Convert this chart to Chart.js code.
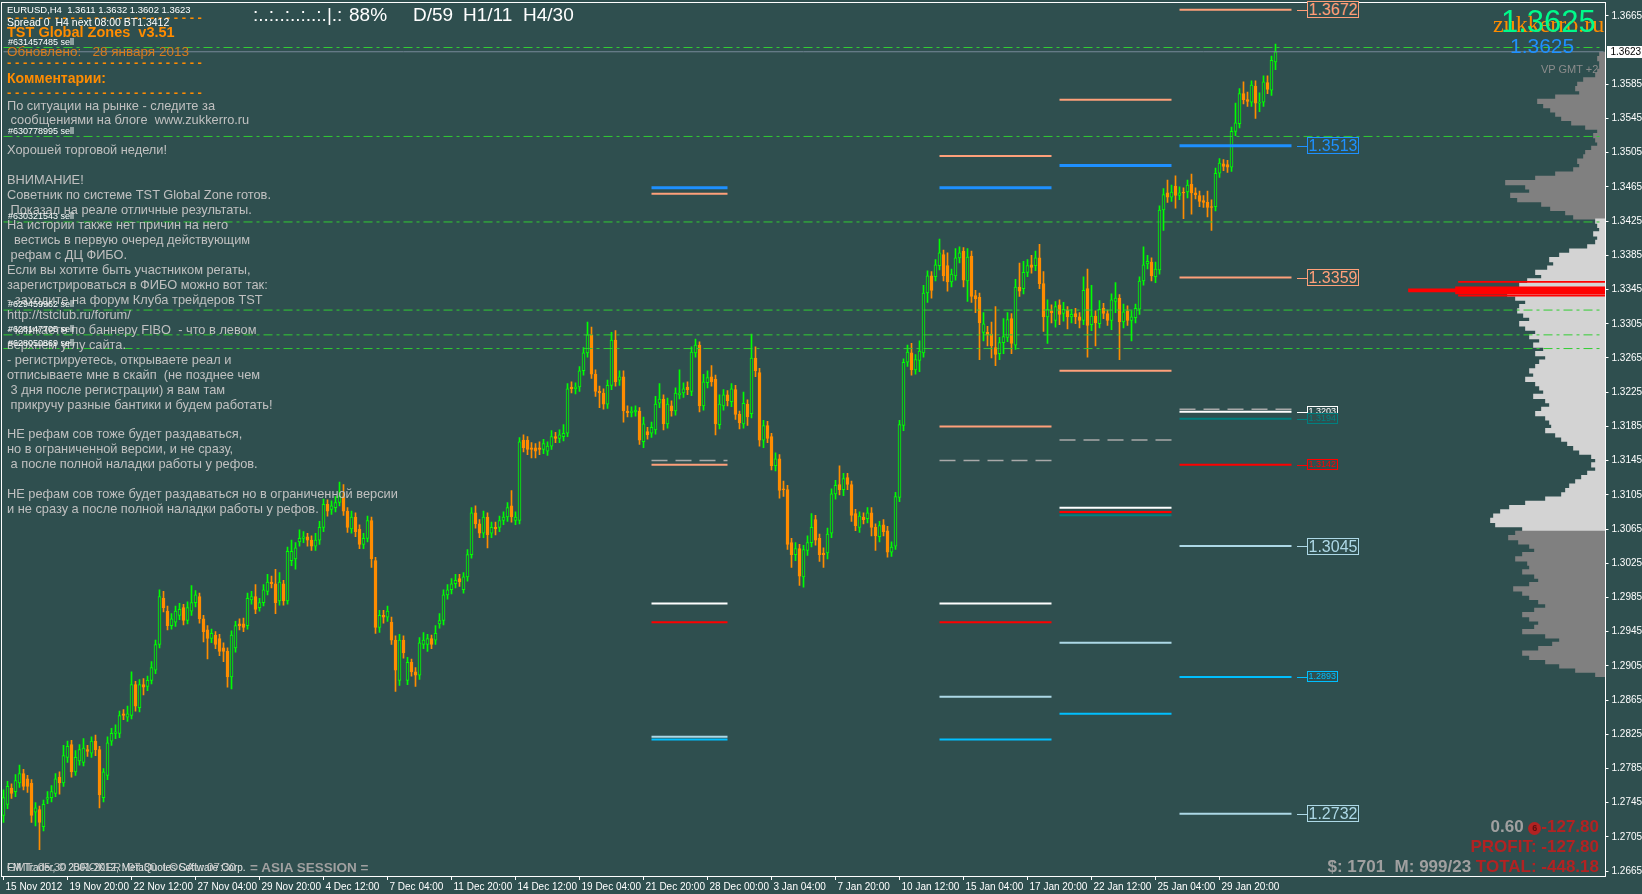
<!DOCTYPE html>
<html>
<head>
<meta charset="utf-8">
<title>EURUSD,H4</title>
<script src="https://cdn.jsdelivr.net/npm/chart.js@4.4.1/dist/chart.umd.min.js"></script>
<style>
  html, body { margin: 0; padding: 0; background: #2F4F4F; overflow: hidden; }
  #wrap { position: relative; width: 1642px; height: 894px; }
  #chart { position: absolute; left: 0; top: 0; }
  .t { position: absolute; white-space: pre; font-family: "Liberation Sans", Arial, sans-serif; line-height: 1; }
  .orange { color: #FF8C00; }
  .dash { font-weight: bold; font-size: 13px; color: #FF8C00; left: 7px; }
  .comment { left: 7px; top: 98.5px; font-size: 12.8px; line-height: 14.96px; color: #C0C0C0; }
  .order { font-size: 9px; color: #FFFFFF; left: 8px; }
  .top { font-size: 19px; color: #FFFFFF; top: 5px; }
  .box { position: absolute; font-family: "Liberation Sans", Arial, sans-serif; border: 1px solid; white-space: pre; padding: 0 1px; background: #2F4F4F; }
  .box.big { font-size: 16px; height: 15px; line-height: 15px; }
  .box.small { font-size: 9px; height: 9px; line-height: 9px; }
  .box::before { content: ""; position: absolute; left: -11px; top: 50%; width: 10px; height: 1px; background: currentColor; }
  .stat { position: absolute; right: 43px; font-family: "Liberation Sans", Arial, sans-serif; font-weight: bold; font-size: 17px; white-space: pre; line-height: 1; }
  .red { color: #B22222; }
  .grey { color: #A0A0A0; }
  .coin { display: inline-block; width: 13px; height: 13px; border-radius: 50%; background: #B22222; color: #5a1010; font-size: 9px; line-height: 13px; text-align: center; vertical-align: 1px; }
</style>
</head>
<body>
<div id="wrap">
  <canvas id="chart" width="1642" height="894"></canvas>

  <div class="t" style="left:7px;top:5px;font-size:9.5px;color:#fff;">EURUSD,H4  1.3611 1.3632 1.3602 1.3623</div>
  <div class="t dash" style="top:11px;">- - - - - - - - - - - - - - - - - - - - - - - - -</div>
  <div class="t" style="left:7px;top:17px;font-size:10.5px;color:#fff;">Spread 0  H4 next 08:00 BT1.3412</div>
  <div class="t orange" style="left:7px;top:25px;font-size:14.5px;font-weight:bold;">TST Global Zones  v3.51</div>
  <div class="t" style="left:7px;top:45px;font-size:13.5px;color:#D97B1C;">Обновлено:   28 января 2013</div>
  <div class="t dash" style="top:56px;">- - - - - - - - - - - - - - - - - - - - - - - - -</div>
  <div class="t orange" style="left:7px;top:71px;font-size:14px;font-weight:bold;">Комментарии:</div>
  <div class="t dash" style="top:86px;">- - - - - - - - - - - - - - - - - - - - - - - - -</div>
  <div class="t comment">По ситуации на рынке - следите за
 сообщениями на блоге  www.zukkerro.ru

Хорошей торговой недели!

ВНИМАНИЕ!
Советник по системе TST Global Zone готов.
 Показал на реале отличные результаты.
На истории также нет причин на него
  вестись в первую очеред действующим
 рефам с ДЦ ФИБО.
Если вы хотите быть участником регаты,
зарегистрироваться в ФИБО можно вот так:
- заходите на форум Клуба трейдеров TST
http://tstclub.ru/forum/
- кликаете по баннеру FIBO  - что в левом
верхнем углу сайта.
- регистрируетесь, открываете реал и
отписываете мне в скайп  (не позднее чем
 3 дня после регистрации) я вам там
 прикручу разные бантики и будем работать!

НЕ рефам сов тоже будет раздаваться,
но в ограниченной версии, и не сразу,
 а после полной наладки работы у рефов.

НЕ рефам сов тоже будет раздаваться но в ограниченной версии
и не сразу а после полной наладки работы у рефов.</div>

  <div class="t top" style="left:253px;">:..:..:..:..:.|.:</div>
  <div class="t top" style="left:349px;">88%</div>
  <div class="t top" style="left:413px;">D/59</div>
  <div class="t top" style="left:463px;">H1/11</div>
  <div class="t top" style="left:523px;">H4/30</div>

  <div class="t" style="left:1493px;top:12px;font-size:24px;color:#FF8C00;font-family:'Liberation Serif','Times New Roman',serif;">zukkerro.ru</div>
  <div class="t" style="left:1501px;top:6px;font-size:31px;color:#00FA8A;">1.3625</div>
  <div class="t" style="left:1510px;top:35px;font-size:21px;color:#1E90FF;">1.3625</div>
  <div class="t" style="left:1541px;top:64px;font-size:11px;color:#8C8C8C;">VP GMT +2</div>

  <div class="t" style="left:7px;top:863px;font-size:10px;color:#E8E8E8;">FM Trader, © 2001-2012, MetaQuotes Software Corp.</div>
  <div class="t" style="left:7px;top:862px;font-size:11.5px;color:#C8C8C8;">GMT: 05:30  BROKER: 07:30  LOCAL: 07:30</div>
  <div class="t" style="left:250px;top:861px;font-size:13.5px;font-weight:bold;color:#A0A0A0;">= ASIA SESSION =</div>

  <div class="stat" style="top:818px;"><span class="grey">0.60 </span><span class="coin">6</span><span class="red">-127.80</span></div>
  <div class="stat red" style="top:838px;">PROFIT: -127.80</div>
  <div class="stat" style="top:858px;"><span class="grey">$: 1701  M: 999/23 </span><span class="red">TOTAL: -448.18</span></div>
</div>

<script>
// --- AXES ---
const slotCount = 401;
const dateStep = 16;
const dateLabels = ['15 Nov 2012', '19 Nov 20:00', '22 Nov 12:00', '27 Nov 04:00', '29 Nov 20:00', '4 Dec 12:00',
  '7 Dec 04:00', '11 Dec 20:00', '14 Dec 12:00', '19 Dec 04:00', '21 Dec 20:00', '28 Dec 00:00', '3 Jan 04:00',
  '7 Jan 20:00', '10 Jan 12:00', '15 Jan 04:00', '17 Jan 20:00', '22 Jan 12:00', '25 Jan 04:00', '29 Jan 20:00'];
const priceTicks = [1.2665, 1.2705, 1.2745, 1.2785, 1.2825, 1.2865, 1.2905, 1.2945, 1.2985, 1.3025, 1.3065, 1.3105,
  1.3145, 1.3185, 1.3225, 1.3265, 1.3305, 1.3345, 1.3385, 1.3425, 1.3465, 1.3505, 1.3545, 1.3585, 1.3665];
const priceMin = 1.26593, priceMax = 1.36812;
const lastPrice = 1.3623;

// --- CANDLES (EURUSD H4) ---
const opens = [
  1.2730,1.2743,1.2762,1.2758,1.2768,1.2779,1.2773,1.2768,1.2734,1.2737,
  1.2717,1.2749,1.2751,1.2756,1.2775,1.2768,1.2798,1.2813,1.2781,1.2794,
  1.2792,1.2807,1.2803,1.2817,1.2807,1.2751,1.2777,1.2817,1.2826,1.2826,
  1.2849,1.2845,1.2847,1.2883,1.2856,1.2883,1.2881,1.2888,1.2900,1.2930,
  1.2984,1.2969,1.2952,1.2956,1.2964,1.2973,1.2958,1.2969,1.2979,1.2986,
  1.2960,1.2947,1.2937,1.2941,1.2937,1.2926,1.2922,1.2892,1.2926,1.2954,
  1.2954,1.2952,1.2982,1.2986,1.2973,1.2979,1.2992,1.3003,1.3001,1.2981,
  1.3001,1.2981,1.3028,1.3030,1.3050,1.3054,1.3056,1.3052,1.3045,1.3052,
  1.3067,1.3094,1.3088,1.3090,1.3096,1.3103,1.3086,1.3065,1.3079,1.3065,
  1.3047,1.3054,1.3075,1.3028,1.2950,1.2964,1.2962,1.2956,1.2935,1.2888,
  1.2935,1.2888,1.2909,1.2898,1.2894,1.2930,1.2930,1.2937,1.2935,1.2954,
  1.2958,1.2988,1.2994,1.3001,1.3007,1.2994,1.3009,1.3035,1.3084,1.3071,
  1.3060,1.3079,1.3060,1.3067,1.3067,1.3075,1.3079,1.3092,1.3075,1.3075,
  1.3169,1.3169,1.3160,1.3160,1.3160,1.3158,1.3156,1.3162,1.3173,1.3171,
  1.3173,1.3177,1.3231,1.3229,1.3231,1.3250,1.3271,1.3292,1.3246,1.3226,
  1.3224,1.3211,1.3233,1.3286,1.3239,1.3243,1.3203,1.3201,1.3202,1.3203,
  1.3167,1.3179,1.3177,1.3181,1.3212,1.3217,1.3188,1.3209,1.3203,1.3222,
  1.3224,1.3231,1.3226,1.3271,1.3280,1.3209,1.3236,1.3243,1.3240,1.3187,
  1.3209,1.3222,1.3214,1.3228,1.3199,1.3188,1.3211,1.3200,1.3265,1.3248,
  1.3169,1.3186,1.3173,1.3139,1.3147,1.3112,1.3111,1.3049,1.3035,1.3042,
  1.3009,1.3040,1.3049,1.3076,1.3054,1.3037,1.3037,1.3060,1.3106,1.3117,
  1.3111,1.3125,1.3117,1.3083,1.3067,1.3079,1.3077,1.3084,1.3067,1.3056,
  1.3070,1.3063,1.3038,1.3045,1.3102,1.3186,1.3260,1.3271,1.3251,1.3262,
  1.3271,1.3341,1.3361,1.3360,1.3373,1.3386,1.3373,1.3354,1.3361,1.3382,
  1.3390,1.3355,1.3384,1.3338,1.3336,1.3295,1.3295,1.3293,1.3277,1.3270,
  1.3283,1.3289,1.3311,1.3280,1.3348,1.3346,1.3365,1.3374,1.3373,1.3382,
  1.3352,1.3313,1.3320,1.3309,1.3327,1.3317,1.3321,1.3313,1.3317,1.3313,
  1.3309,1.3346,1.3304,1.3314,1.3305,1.3323,1.3317,1.3309,1.3331,1.3335,
  1.3307,1.3320,1.3309,1.3312,1.3322,1.3355,1.3375,1.3377,1.3360,1.3368,
  1.3438,1.3458,1.3453,1.3466,1.3455,1.3459,1.3459,1.3468,1.3458,1.3455,
  1.3449,1.3447,1.3442,1.3442,1.3481,1.3492,1.3491,1.3488,1.3530,1.3539,
  1.3574,1.3567,1.3564,1.3583,1.3563,1.3564,1.3587,1.3578,1.3611];
const highs = [
  1.2760,1.2770,1.2767,1.2778,1.2789,1.2784,1.2777,1.2772,1.2745,1.2741,
  1.2748,1.2758,1.2765,1.2779,1.2781,1.2812,1.2817,1.2818,1.2806,1.2813,
  1.2820,1.2812,1.2822,1.2824,1.2811,1.2785,1.2822,1.2832,1.2836,1.2852,
  1.2854,1.2858,1.2898,1.2887,1.2889,1.2890,1.2893,1.2910,1.2935,1.2994,
  1.2992,1.2975,1.2966,1.2975,1.2978,1.2977,1.2980,1.2999,1.2993,1.2990,
  1.2964,1.2952,1.2948,1.2945,1.2942,1.2932,1.2926,1.2946,1.2957,1.2960,
  1.2961,1.2990,1.2992,1.3000,1.2984,1.3000,1.3012,1.3010,1.3018,1.3014,
  1.3005,1.3044,1.3052,1.3049,1.3064,1.3062,1.3060,1.3057,1.3060,1.3074,
  1.3100,1.3099,1.3098,1.3103,1.3120,1.3117,1.3090,1.3086,1.3084,1.3070,
  1.3060,1.3080,1.3079,1.3032,1.2970,1.2970,1.2975,1.2962,1.2940,1.2942,
  1.2940,1.2915,1.2913,1.2903,1.2938,1.2944,1.2942,1.2941,1.2952,1.2966,
  1.2994,1.3000,1.3007,1.3012,1.3012,1.3014,1.3041,1.3090,1.3092,1.3076,
  1.3086,1.3084,1.3073,1.3073,1.3080,1.3085,1.3096,1.3110,1.3085,1.3172,
  1.3175,1.3173,1.3166,1.3165,1.3167,1.3170,1.3167,1.3180,1.3178,1.3181,
  1.3187,1.3235,1.3237,1.3236,1.3255,1.3277,1.3307,1.3301,1.3251,1.3232,
  1.3229,1.3239,1.3295,1.3297,1.3250,1.3250,1.3209,1.3208,1.3209,1.3207,
  1.3196,1.3184,1.3190,1.3220,1.3235,1.3222,1.3218,1.3215,1.3230,1.3251,
  1.3236,1.3237,1.3278,1.3287,1.3284,1.3246,1.3250,1.3256,1.3245,1.3222,
  1.3228,1.3227,1.3235,1.3233,1.3203,1.3225,1.3216,1.3293,1.3278,1.3253,
  1.3192,1.3191,1.3177,1.3154,1.3152,1.3121,1.3116,1.3054,1.3049,1.3047,
  1.3046,1.3057,1.3083,1.3081,1.3059,1.3043,1.3066,1.3112,1.3122,1.3139,
  1.3130,1.3130,1.3121,1.3088,1.3085,1.3084,1.3090,1.3090,1.3071,1.3074,
  1.3076,1.3068,1.3050,1.3108,1.3192,1.3264,1.3280,1.3282,1.3269,1.3285,
  1.3350,1.3367,1.3366,1.3380,1.3404,1.3391,1.3388,1.3369,1.3393,1.3395,
  1.3394,1.3393,1.3390,1.3344,1.3341,1.3318,1.3302,1.3307,1.3325,1.3289,
  1.3311,1.3318,1.3317,1.3357,1.3376,1.3378,1.3380,1.3385,1.3390,1.3398,
  1.3366,1.3333,1.3327,1.3331,1.3333,1.3330,1.3325,1.3322,1.3323,1.3318,
  1.3360,1.3369,1.3350,1.3320,1.3332,1.3329,1.3321,1.3340,1.3353,1.3339,
  1.3328,1.3326,1.3320,1.3328,1.3360,1.3395,1.3385,1.3382,1.3377,1.3443,
  1.3463,1.3473,1.3467,1.3478,1.3465,1.3464,1.3473,1.3480,1.3464,1.3460,
  1.3455,1.3460,1.3450,1.3487,1.3498,1.3497,1.3496,1.3535,1.3563,1.3580,
  1.3588,1.3576,1.3589,1.3589,1.3575,1.3595,1.3595,1.3618,1.3632];
const lows = [
  1.2722,1.2738,1.2750,1.2752,1.2763,1.2760,1.2757,1.2722,1.2718,1.2690,
  1.2712,1.2744,1.2746,1.2752,1.2755,1.2764,1.2792,1.2775,1.2777,1.2789,
  1.2788,1.2799,1.2798,1.2800,1.2739,1.2746,1.2772,1.2812,1.2820,1.2821,
  1.2842,1.2840,1.2843,1.2852,1.2851,1.2871,1.2876,1.2884,1.2896,1.2926,
  1.2968,1.2947,1.2948,1.2951,1.2959,1.2953,1.2954,1.2964,1.2974,1.2955,
  1.2933,1.2913,1.2932,1.2925,1.2917,1.2910,1.2880,1.2878,1.2921,1.2947,
  1.2945,1.2948,1.2977,1.2966,1.2969,1.2975,1.2988,1.2996,1.2966,1.2976,
  1.2976,1.2977,1.3022,1.3018,1.3045,1.3049,1.3045,1.3040,1.3040,1.3047,
  1.3062,1.3080,1.3082,1.3085,1.3092,1.3081,1.3061,1.3060,1.3056,1.3042,
  1.3042,1.3050,1.3020,1.2943,1.2944,1.2955,1.2957,1.2930,1.2875,1.2882,
  1.2914,1.2883,1.2893,1.2881,1.2889,1.2925,1.2922,1.2925,1.2930,1.2949,
  1.2953,1.2983,1.2989,1.2996,1.2998,1.2990,1.3004,1.3031,1.3066,1.3055,
  1.3055,1.3043,1.3055,1.3058,1.3062,1.3070,1.3074,1.3073,1.3070,1.3071,
  1.3155,1.3152,1.3148,1.3148,1.3152,1.3153,1.3151,1.3158,1.3166,1.3166,
  1.3168,1.3173,1.3224,1.3223,1.3226,1.3245,1.3266,1.3241,1.3220,1.3207,
  1.3205,1.3206,1.3228,1.3232,1.3233,1.3190,1.3196,1.3196,1.3197,1.3164,
  1.3160,1.3170,1.3172,1.3176,1.3207,1.3181,1.3183,1.3197,1.3198,1.3217,
  1.3219,1.3222,1.3221,1.3266,1.3202,1.3204,1.3230,1.3232,1.3175,1.3182,
  1.3204,1.3209,1.3208,1.3193,1.3182,1.3183,1.3186,1.3195,1.3243,1.3162,
  1.3160,1.3166,1.3134,1.3133,1.3101,1.3103,1.3041,1.3020,1.3028,1.2999,
  1.2997,1.3034,1.3044,1.3046,1.3027,1.3020,1.3030,1.3055,1.3100,1.3105,
  1.3104,1.3111,1.3074,1.3063,1.3061,1.3071,1.3072,1.3057,1.3040,1.3050,
  1.3057,1.3032,1.3033,1.3041,1.3097,1.3180,1.3255,1.3245,1.3246,1.3249,
  1.3266,1.3330,1.3335,1.3355,1.3368,1.3355,1.3343,1.3348,1.3356,1.3376,
  1.3348,1.3331,1.3330,1.3318,1.3263,1.3285,1.3279,1.3265,1.3256,1.3263,
  1.3270,1.3284,1.3270,1.3275,1.3337,1.3340,1.3360,1.3364,1.3367,1.3346,
  1.3296,1.3282,1.3306,1.3301,1.3304,1.3308,1.3299,1.3306,1.3305,1.3300,
  1.3304,1.3266,1.3297,1.3279,1.3300,1.3311,1.3303,1.3298,1.3318,1.3263,
  1.3300,1.3303,1.3285,1.3306,1.3316,1.3350,1.3369,1.3355,1.3353,1.3363,
  1.3414,1.3447,1.3448,1.3440,1.3450,1.3428,1.3452,1.3433,1.3451,1.3442,
  1.3441,1.3430,1.3414,1.3437,1.3476,1.3484,1.3482,1.3483,1.3525,1.3534,
  1.3562,1.3559,1.3559,1.3545,1.3553,1.3559,1.3574,1.3572,1.3602];
const closes = [
  1.2751,1.2764,1.2756,1.2771,1.2779,1.2764,1.2764,1.2730,1.2739,1.2722,
  1.2743,1.2751,1.2758,1.2773,1.2768,1.2800,1.2811,1.2781,1.2798,1.2807,
  1.2809,1.2805,1.2817,1.2807,1.2754,1.2781,1.2815,1.2826,1.2828,1.2847,
  1.2847,1.2849,1.2883,1.2858,1.2883,1.2880,1.2888,1.2903,1.2930,1.2986,
  1.2973,1.2952,1.2960,1.2969,1.2971,1.2958,1.2973,1.2979,1.2988,1.2960,
  1.2945,1.2937,1.2943,1.2930,1.2922,1.2922,1.2892,1.2941,1.2952,1.2952,
  1.2950,1.2984,1.2986,1.2971,1.2979,1.2994,1.3003,1.3001,1.2979,1.3003,
  1.2981,1.3039,1.3039,1.3043,1.3054,1.3056,1.3052,1.3045,1.3052,1.3067,
  1.3094,1.3086,1.3092,1.3096,1.3103,1.3086,1.3067,1.3079,1.3062,1.3047,
  1.3054,1.3075,1.3030,1.2950,1.2964,1.2962,1.2969,1.2935,1.2900,1.2935,
  1.2920,1.2909,1.2898,1.2894,1.2932,1.2935,1.2937,1.2930,1.2943,1.2958,
  1.2988,1.2994,1.3001,1.3005,1.3003,1.3009,1.3035,1.3084,1.3071,1.3060,
  1.3079,1.3058,1.3067,1.3065,1.3075,1.3079,1.3090,1.3079,1.3079,1.3167,
  1.3160,1.3158,1.3158,1.3156,1.3158,1.3165,1.3162,1.3173,1.3171,1.3175,
  1.3177,1.3229,1.3229,1.3231,1.3250,1.3271,1.3292,1.3246,1.3226,1.3224,
  1.3211,1.3233,1.3286,1.3237,1.3243,1.3203,1.3201,1.3203,1.3204,1.3169,
  1.3188,1.3175,1.3184,1.3211,1.3217,1.3188,1.3211,1.3203,1.3224,1.3224,
  1.3229,1.3228,1.3272,1.3280,1.3209,1.3237,1.3242,1.3237,1.3188,1.3211,
  1.3222,1.3215,1.3229,1.3199,1.3189,1.3212,1.3196,1.3265,1.3250,1.3169,
  1.3186,1.3171,1.3139,1.3147,1.3110,1.3111,1.3047,1.3035,1.3042,1.3010,
  1.3041,1.3049,1.3067,1.3052,1.3035,1.3035,1.3059,1.3106,1.3116,1.3111,
  1.3124,1.3117,1.3081,1.3069,1.3080,1.3076,1.3084,1.3067,1.3057,1.3069,
  1.3062,1.3038,1.3044,1.3103,1.3187,1.3260,1.3272,1.3251,1.3263,1.3273,
  1.3341,1.3361,1.3344,1.3374,1.3388,1.3361,1.3354,1.3363,1.3382,1.3388,
  1.3356,1.3383,1.3337,1.3334,1.3306,1.3305,1.3292,1.3279,1.3269,1.3283,
  1.3290,1.3310,1.3282,1.3348,1.3343,1.3365,1.3373,1.3371,1.3382,1.3352,
  1.3313,1.3322,1.3318,1.3325,1.3316,1.3322,1.3313,1.3316,1.3313,1.3309,
  1.3344,1.3303,1.3314,1.3306,1.3322,1.3317,1.3309,1.3333,1.3335,1.3307,
  1.3319,1.3309,1.3313,1.3323,1.3355,1.3374,1.3378,1.3361,1.3369,1.3438,
  1.3456,1.3453,1.3459,1.3455,1.3458,1.3458,1.3467,1.3458,1.3456,1.3448,
  1.3447,1.3441,1.3441,1.3481,1.3493,1.3489,1.3488,1.3530,1.3540,1.3574,
  1.3567,1.3565,1.3584,1.3563,1.3564,1.3588,1.3579,1.3613,1.3623];

// --- GLOBAL ZONES (level, bar group, colour, width, dashed) ---
const zoneGroupFrom = [162, 234, 264, 294];
const zoneGroupTo = [181, 262, 292, 322];
const zoneGroup = [0,0,0,0,0,0,0,0, 1,1,1,1,1,1,1,1, 2,2,2,2,2,2,2,2,2, 3,3,3,3,3,3,3,3,3,3];
const zoneLevel = [1.3464, 1.3457, 1.3145, 1.3140, 1.2978, 1.2956, 1.2822, 1.2819,
  1.3501, 1.3464, 1.3185, 1.3145, 1.2978, 1.2956, 1.2869, 1.2819,
  1.3567, 1.3490, 1.3250, 1.3169, 1.3090, 1.3085, 1.3081, 1.2932, 1.2849,
  1.3672, 1.3513, 1.3359, 1.3205, 1.3202, 1.3194, 1.3140, 1.3045, 1.2892, 1.2732];
const zoneColor = ['#1E90FF', '#FFA07A', '#A9A9A9', '#FFA07A', '#FFFFFF', '#FF0000', '#ADD8E6', '#00BFFF',
  '#FFA07A', '#1E90FF', '#FFA07A', '#A9A9A9', '#FFFFFF', '#FF0000', '#ADD8E6', '#00BFFF',
  '#FFA07A', '#1E90FF', '#FFA07A', '#A9A9A9', '#FFFFFF', '#FF0000', '#008080', '#ADD8E6', '#00BFFF',
  '#FFA07A', '#1E90FF', '#FFA07A', '#A9A9A9', '#FFFFFF', '#008080', '#FF0000', '#ADD8E6', '#00BFFF', '#ADD8E6'];
const zoneWidth = [3, 2, 1.5, 2, 2, 2, 2, 2,
  2, 3, 2, 1.5, 2, 2, 2, 2,
  2, 3, 2, 1.5, 2, 2, 2, 2, 2,
  2, 3, 2, 1.5, 2, 2, 2, 2, 2, 2];
const zoneDashed = zoneColor.map(c => c === '#A9A9A9');

// price boxes at the end of the last zone group
const boxLevel = [1.3672, 1.3513, 1.3359, 1.3202, 1.3194, 1.3140, 1.3045, 1.2892, 1.2732];
const boxText = ['1.3672', '1.3513', '1.3359', '1.3203', '1.3194', '1.3142', '1.3045', '1.2893', '1.2732'];
const boxColor = ['#FFA07A', '#1E90FF', '#FFA07A', '#FFFFFF', '#008080', '#FF0000', '#ADD8E6', '#00BFFF', '#ADD8E6'];
const boxBig = [true, true, true, false, false, false, true, false, true];

// --- PENDING ORDERS ---
const orderLevel = [1.3628, 1.3524, 1.3424, 1.3321, 1.3292, 1.3276];
const orderTicket = ['#631457485 sell', '#630778995 sell', '#630321543 sell', '#629459962 sell', '#628147705 sell', '#628050869 sell'];

// --- VOLUME PROFILE (top level 1.3620, step 0.0005 down) ---
const profTop = 1.3620, profStep = 0.0005;
const profVolume = [
  6, 8, 6, 6, 8, 10, 22, 28, 30, 26,
  50, 68, 62, 55, 50, 44, 34, 20, 8, 12,
  10, 8, 14, 20, 22, 28, 26, 32, 50, 70,
  100, 80, 76, 95, 88, 64, 55, 40, 32, 10,
  8, 6, 12, 8, 10, 18, 36, 46, 56, 52,
  58, 70, 64, 78, 86, 104, 98, 90, 80, 86,
  88, 82, 76, 86, 80, 70, 76, 66, 72, 62,
  70, 60, 66, 70, 76, 72, 80, 70, 66, 62,
  72, 60, 56, 64, 70, 60, 56, 54, 60, 50,
  44, 38, 32, 26, 14, 10, 14, 10, 18, 24,
  30, 36, 40, 44, 60, 80, 96, 105, 112, 115,
  110, 83, 90, 97, 87, 76, 71, 83, 90, 78,
  76, 83, 71, 67, 76, 92, 83, 76, 67, 60,
  71, 83, 76, 67, 71, 83, 60, 46, 53, 67,
  83, 76, 60, 46, 30, 10];
const valueAreaHigh = 1.3425, valueAreaLow = 1.3065;
const pocLevel = 1.3344, pocVolume = 150, pocTipVolume = 197;
const pocEdgeLevels = [1.3354, 1.3338], pocEdgeVolume = 147;

// --- CHART ---
const BG = '#2F4F4F';
const BULL = '#00FF00', BEAR = '#FF8C00';
const isBull = i => closes[i] >= opens[i];
const profLevel = i => +(profTop - i * profStep).toFixed(4);

const datasets = [];

datasets.push({
  type: 'bar', indexAxis: 'y', xAxisID: 'xp', yAxisID: 'y', order: 30, grouped: false, clip: 0,
  data: profVolume.map((v, i) => ({ x: v, y: profLevel(i) })),
  backgroundColor: ctx => {
    const p = profLevel(ctx.dataIndex);
    return (p <= valueAreaHigh && p >= valueAreaLow) ? '#D3D3D3' : '#808080';
  },
  barThickness: 4.6
});
datasets.push({
  type: 'bar', indexAxis: 'y', xAxisID: 'xp', yAxisID: 'y', order: 29, grouped: false, clip: 0,
  data: [{ x: pocVolume, y: pocLevel }], backgroundColor: '#FF0000', barThickness: 7
});
datasets.push({
  type: 'bar', indexAxis: 'y', xAxisID: 'xp', yAxisID: 'y', order: 29, grouped: false, clip: 0,
  data: [{ x: pocTipVolume, y: pocLevel }], backgroundColor: '#FF0000', barThickness: 3
});
datasets.push({
  type: 'bar', indexAxis: 'y', xAxisID: 'xp', yAxisID: 'y', order: 29, grouped: false, clip: 0,
  data: pocEdgeLevels.map(l => ({ x: pocEdgeVolume, y: l })), backgroundColor: '#FF0000', barThickness: 1.2
});

// wicks + bodies
datasets.push({
  type: 'bar', order: 5, grouped: false, barThickness: 1,
  data: highs.map((h, i) => [lows[i], h]),
  backgroundColor: ctx => isBull(ctx.dataIndex) ? BULL : BEAR
});
datasets.push({
  type: 'bar', order: 4, grouped: false, barThickness: 3, borderWidth: 1, borderSkipped: false,
  data: opens.map((o, i) => [o, closes[i]]),
  backgroundColor: ctx => isBull(ctx.dataIndex) ? BG : BEAR,
  borderColor: ctx => isBull(ctx.dataIndex) ? BULL : BEAR
});

// zone segments
zoneLevel.forEach((lvl, i) => {
  const g = zoneGroup[i];
  datasets.push({
    type: 'line', order: 2,
    data: [{ x: zoneGroupFrom[g], y: lvl }, { x: zoneGroupTo[g], y: lvl }],
    borderColor: zoneColor[i], borderWidth: zoneWidth[i], borderDash: zoneDashed[i] ? [16, 8] : [],
    pointRadius: 0, fill: false, tension: 0
  });
});

// pending order lines (dash-dot) and bid line
orderLevel.forEach(lvl => {
  datasets.push({
    type: 'line', order: 1,
    data: [{ x: 0, y: lvl }, { x: slotCount - 1, y: lvl }],
    borderColor: '#32CD32', borderWidth: 1, borderDash: [9, 4, 3, 4],
    pointRadius: 0, fill: false
  });
});
datasets.push({
  type: 'line', order: 0,
  data: [{ x: 0, y: lastPrice }, { x: slotCount - 1, y: lastPrice }],
  borderColor: '#778899', borderWidth: 1, pointRadius: 0, fill: false
});

const framePlugin = {
  id: 'frame',
  beforeDraw(c) {
    const g = c.ctx;
    g.save(); g.fillStyle = BG; g.fillRect(0, 0, c.width, c.height); g.restore();
  },
  afterDraw(c) {
    const g = c.ctx, a = c.chartArea;
    g.save(); g.strokeStyle = '#FFFFFF'; g.lineWidth = 1;
    g.strokeRect(a.left, a.top + 0.5, a.right - a.left, a.bottom - a.top);
    g.restore();
  }
};

const noPad = s => { s.paddingTop = 0; s.paddingBottom = 0; s.paddingLeft = 0; s.paddingRight = 0; };
const labels = Array.from({ length: slotCount }, (_, i) => i);

const chart = new Chart(document.getElementById('chart'), {
  type: 'bar',
  data: { labels, datasets },
  plugins: [framePlugin],
  options: {
    responsive: false, animation: false, devicePixelRatio: 1, events: [],
    layout: { padding: { left: 1.5, top: 2, right: 0, bottom: 0 } },
    plugins: { legend: { display: false }, tooltip: { enabled: false } },
    scales: {
      x: {
        type: 'category', offset: true,
        grid: { display: true, drawOnChartArea: false, drawTicks: true, tickLength: 4, color: '#FFFFFF', offset: false },
        border: { display: false },
        afterBuildTicks: s => { s.ticks = s.ticks.filter(t => t.value % dateStep === 0 && t.value / dateStep < dateLabels.length); },
        afterFit: s => { s.height = 18; noPad(s); },
        ticks: {
          autoSkip: false, maxRotation: 0, align: 'start', labelOffset: 2, padding: 1,
          color: '#FFFFFF', font: { family: 'Liberation Sans', size: 10 },
          callback: v => dateLabels[v / dateStep]
        }
      },
      y: {
        type: 'linear', position: 'right', min: priceMin, max: priceMax, offset: false,
        grid: { display: true, drawOnChartArea: false, drawTicks: true, tickLength: 3, color: '#FFFFFF', offset: false },
        border: { display: false },
        afterBuildTicks: s => { s.ticks = priceTicks.map(v => ({ value: v })); },
        afterFit: s => { s.width = 36.5; noPad(s); },
        ticks: {
          autoSkip: false, padding: 3, color: '#FFFFFF', font: { family: 'Liberation Sans', size: 10 },
          callback: v => Number(v).toFixed(4)
        }
      },
      xp: {
        type: 'linear', axis: 'x', position: 'bottom', display: false, reverse: true,
        offset: false, grid: { offset: false }, min: 0, max: 1604
      }
    }
  }
});

// --- overlays positioned from the scales ---
const wrap = document.getElementById('wrap');
const ys = chart.scales.y, xs = chart.scales.x;

orderLevel.forEach((lvl, i) => {
  const d = document.createElement('div');
  d.className = 't order';
  d.textContent = orderTicket[i];
  d.style.top = (ys.getPixelForValue(lvl) - 9.6) + 'px';
  wrap.appendChild(d);
});

const boxLeft = xs.getPixelForValue(zoneGroupTo[3]) + 15;
boxLevel.forEach((lvl, i) => {
  const d = document.createElement('div');
  d.className = 'box ' + (boxBig[i] ? 'big' : 'small');
  d.textContent = boxText[i];
  d.style.color = boxColor[i];
  d.style.borderColor = boxColor[i];
  d.style.left = boxLeft + 'px';
  const h = boxBig[i] ? 17 : 11;
  d.style.top = (ys.getPixelForValue(lvl) - h / 2) + 'px';
  wrap.appendChild(d);
});

const bid = document.createElement('div');
bid.className = 't';
bid.textContent = lastPrice.toFixed(4);
Object.assign(bid.style, {
  left: (chart.chartArea.right + 1) + 'px', width: '35px', height: '12px', lineHeight: '12px',
  top: (ys.getPixelForValue(lastPrice) - 6) + 'px', background: '#FFFFFF', color: '#000000',
  fontSize: '10px', paddingLeft: '4px', boxSizing: 'border-box'
});
wrap.appendChild(bid);
</script>
</body>
</html>
